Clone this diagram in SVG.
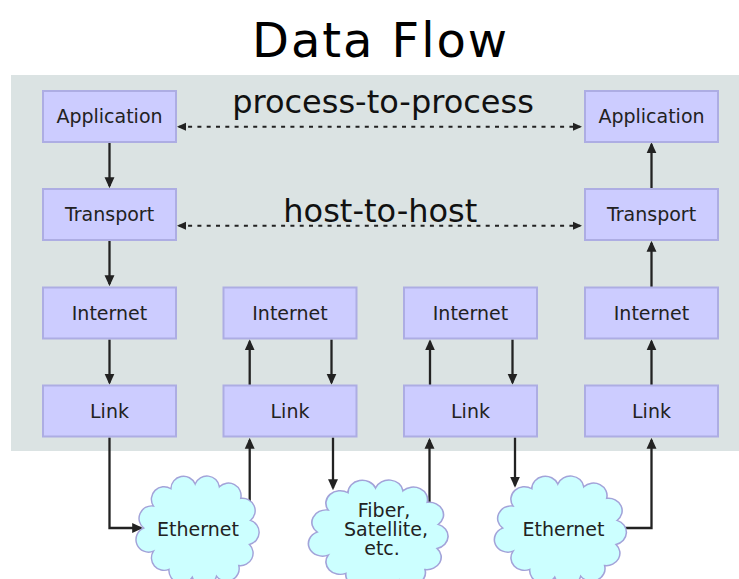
<svg xmlns="http://www.w3.org/2000/svg" width="739" height="579" viewBox="0 0 739 579">
  <style>
    .box { fill: #ccccff; stroke: #adade3; stroke-width: 2; }
    .cloud { fill: #ccffff; stroke: #a3a3d9; stroke-width: 1.5; }
    .lbl { font-family: "DejaVu Sans", Verdana, sans-serif; font-size: 19px; fill: #222; text-anchor: middle; }
    .big { font-family: "DejaVu Sans", Verdana, sans-serif; font-size: 32px; fill: #111; text-anchor: middle; }
    .title { font-family: "DejaVu Sans", Verdana, sans-serif; font-size: 48px; fill: #000; text-anchor: middle; }
    .flow { fill: none; stroke: #222; stroke-width: 2.3; }
    .dot { fill: none; stroke: #222; stroke-width: 2; stroke-dasharray: 4 5.3; }
  </style>
  <defs>
    <marker id="arr" viewBox="0 0 10 10" refX="8" refY="5" markerWidth="11" markerHeight="11" markerUnits="userSpaceOnUse" orient="auto">
      <path d="M0,0.5 L10,5 L0,9.5 Z" fill="#222"/>
    </marker>
    <marker id="arrs" viewBox="0 0 10 10" refX="8" refY="5" markerWidth="9" markerHeight="9" markerUnits="userSpaceOnUse" orient="auto-start-reverse">
      <path d="M0,0.5 L10,5 L0,9.5 Z" fill="#222"/>
    </marker>
    <!-- puffy cloud outline centred on 0,0 -->
    <path id="cloudShape" d="M-48,-26 A13,13 0 0 1 -30,-44 A13,13 0 0 1 -5,-49 A13,13 0 0 1 20,-46 A13,13 0 0 1 42,-34 A13,13 0 0 1 52,-11 A13,13 0 0 1 51,14 A13,13 0 0 1 40,36 A13,13 0 0 1 17,47 A13,13 0 0 1 -8,48 A13,13 0 0 1 -32,40 A13,13 0 0 1 -48,21 A13,13 0 0 1 -58,-3 A13,13 0 0 1 -48,-26 Z"/>
  </defs>

  <rect width="739" height="579" fill="#ffffff"/>

  <!-- title -->
  <text class="title" x="379.5" y="57" textLength="255" lengthAdjust="spacing">Data Flow</text>

  <!-- shaded host area -->
  <rect x="11" y="75" width="728" height="376" fill="#dbe3e3"/>

  <text class="big" x="383" y="113">process-to-process</text>
  <text class="big" x="380.3" y="222.3">host-to-host</text>

  <!-- connectors (drawn below the clouds so lines leaving a cloud start at its edge) -->
  <g id="connectors">
    <line class="dot" x1="178.8" y1="126.7" x2="580.2" y2="126.7" marker-start="url(#arrs)" marker-end="url(#arrs)"/>
    <line class="dot" x1="178.8" y1="225.7" x2="580.2" y2="225.7" marker-start="url(#arrs)" marker-end="url(#arrs)"/>

    <!-- host A: down the stack -->
    <line class="flow" x1="109.5" y1="143" x2="109.5" y2="186" marker-end="url(#arr)"/>
    <line class="flow" x1="109.5" y1="241" x2="109.5" y2="284" marker-end="url(#arr)"/>
    <line class="flow" x1="109.5" y1="339.5" x2="109.5" y2="382.5" marker-end="url(#arr)"/>
    <path class="flow" d="M109.5,437.5 V528 H141" marker-end="url(#arr)"/>

    <!-- router 1 -->
    <line class="flow" x1="249.7" y1="520" x2="249.7" y2="440" marker-end="url(#arr)"/>
    <line class="flow" x1="249.7" y1="385.5" x2="249.7" y2="341.5" marker-end="url(#arr)"/>
    <line class="flow" x1="331.5" y1="339.5" x2="331.5" y2="382.5" marker-end="url(#arr)"/>
    <line class="flow" x1="333" y1="437.5" x2="333" y2="488" marker-end="url(#arr)"/>

    <!-- router 2 -->
    <line class="flow" x1="429.5" y1="520" x2="429.5" y2="440" marker-end="url(#arr)"/>
    <line class="flow" x1="430" y1="385.5" x2="430" y2="341.5" marker-end="url(#arr)"/>
    <line class="flow" x1="512.5" y1="339.5" x2="512.5" y2="382.5" marker-end="url(#arr)"/>
    <line class="flow" x1="515" y1="437.5" x2="515" y2="485.5" marker-end="url(#arr)"/>

    <!-- host B: up the stack -->
    <path class="flow" d="M600,528 H651.5 V440" marker-end="url(#arr)"/>
    <line class="flow" x1="651.5" y1="385.5" x2="651.5" y2="341.5" marker-end="url(#arr)"/>
    <line class="flow" x1="651.5" y1="287.5" x2="651.5" y2="243" marker-end="url(#arr)"/>
    <line class="flow" x1="651.5" y1="189" x2="651.5" y2="144.5" marker-end="url(#arr)"/>
  </g>

  <!-- host A -->
  <g id="app-a"><rect class="box" x="43" y="91" width="133" height="51"/><text class="lbl" x="109.5" y="123.3">Application</text></g>
  <g id="transport-a"><rect class="box" x="43" y="189" width="133" height="51"/><text class="lbl" x="109.5" y="221.3">Transport</text></g>
  <g id="internet-a"><rect class="box" x="43" y="287.5" width="133" height="51"/><text class="lbl" x="109.5" y="319.8">Internet</text></g>
  <g id="link-a"><rect class="box" x="43" y="385.5" width="133" height="51"/><text class="lbl" x="109.5" y="417.8">Link</text></g>

  <!-- router 1 -->
  <g id="internet-r1"><rect class="box" x="223.5" y="287.5" width="133" height="51"/><text class="lbl" x="290" y="319.8">Internet</text></g>
  <g id="link-r1"><rect class="box" x="223.5" y="385.5" width="133" height="51"/><text class="lbl" x="290" y="417.8">Link</text></g>

  <!-- router 2 -->
  <g id="internet-r2"><rect class="box" x="404" y="287.5" width="133" height="51"/><text class="lbl" x="470.5" y="319.8">Internet</text></g>
  <g id="link-r2"><rect class="box" x="404" y="385.5" width="133" height="51"/><text class="lbl" x="470.5" y="417.8">Link</text></g>

  <!-- host B -->
  <g id="app-b"><rect class="box" x="585" y="91" width="133" height="51"/><text class="lbl" x="651.5" y="123.3">Application</text></g>
  <g id="transport-b"><rect class="box" x="585" y="189" width="133" height="51"/><text class="lbl" x="651.5" y="221.3">Transport</text></g>
  <g id="internet-b"><rect class="box" x="585" y="287.5" width="133" height="51"/><text class="lbl" x="651.5" y="319.8">Internet</text></g>
  <g id="link-b"><rect class="box" x="585" y="385.5" width="133" height="51"/><text class="lbl" x="651.5" y="417.8">Link</text></g>

  <!-- physical media -->
  <g id="ethernet-1">
    <use href="#cloudShape" class="cloud" transform="translate(200,531) scale(0.97,0.96)"/>
    <text class="lbl" x="198" y="535.7">Ethernet</text>
  </g>
  <g id="fiber">
    <use href="#cloudShape" class="cloud" transform="translate(381,535) scale(1.1,0.96)"/>
    <text class="lbl"><tspan x="384" y="516.7">Fiber,</tspan><tspan x="386" y="535.7">Satellite,</tspan><tspan x="382" y="555">etc.</tspan></text>
  </g>
  <g id="ethernet-2">
    <use href="#cloudShape" class="cloud" transform="translate(563,531) scale(1.04,0.96)"/>
    <text class="lbl" x="563.5" y="536">Ethernet</text>
  </g>
</svg>
